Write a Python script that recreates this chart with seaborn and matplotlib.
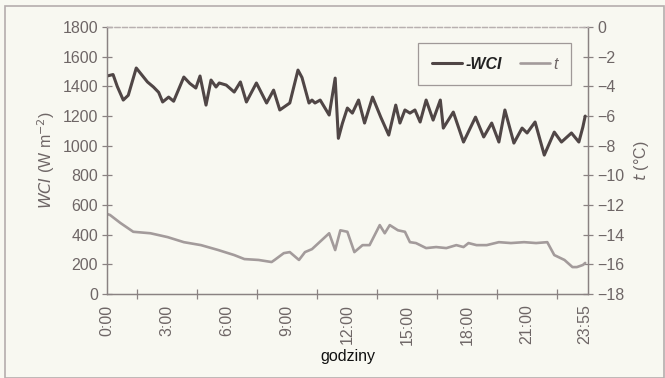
import matplotlib
matplotlib.use("Agg")
import matplotlib.pyplot as plt
from matplotlib.lines import Line2D
from matplotlib.ticker import FixedLocator
import pandas as pd
import seaborn as sns

# Wind chill index (WCI) over the day: hours, value in W m^-2
wci_hours = [0.0, 0.30, 0.51, 0.81, 1.06, 1.46, 2.02, 2.32, 2.58, 2.78, 3.08, 3.33,
             3.84, 4.14, 4.44, 4.65, 4.95, 5.20, 5.45, 5.61, 5.96, 6.36, 6.67, 6.97,
             7.47, 7.98, 8.33, 8.64, 9.14, 9.55, 9.75, 10.10, 10.25, 10.40, 10.66,
             11.11, 11.41, 11.57, 11.77, 12.02, 12.27, 12.58, 12.88, 13.28, 13.69,
             14.09, 14.44, 14.65, 14.90, 15.15, 15.40, 15.66, 15.96, 16.31, 16.67,
             16.82, 17.32, 17.83, 18.43, 18.84, 19.24, 19.60, 19.90, 20.35, 20.76,
             21.01, 21.41, 21.87, 22.37, 22.73, 23.23, 23.60, 23.80, 23.917]
wci_values = [1470, 1480, 1400, 1308, 1340, 1524, 1430, 1396, 1360, 1295, 1328, 1300,
              1463, 1420, 1389, 1470, 1274, 1443, 1396, 1423, 1409, 1362, 1430, 1295,
              1423, 1288, 1375, 1241, 1288, 1510, 1460, 1288, 1308, 1288, 1308,
              1207, 1456, 1050, 1150, 1254, 1220, 1308, 1153, 1328, 1193,
              1072, 1274, 1153, 1241, 1220, 1241, 1160, 1308, 1173, 1308,
              1119, 1227, 1025, 1193, 1059, 1153, 1025, 1241, 1018, 1119,
              1086, 1160, 937, 1092, 1025, 1086, 1025, 1126, 1200]

# Air temperature t over the day: hours, degrees C
t_hours = [0.0, 0.15, 0.66, 1.31, 2.17, 3.03, 3.84, 4.70, 5.56, 6.36, 6.87, 7.58,
           8.23, 8.38, 8.84, 9.14, 9.60, 9.90, 10.25, 11.11, 11.41, 11.67, 12.02,
           12.37, 12.78, 13.13, 13.64, 13.89, 14.14, 14.55, 14.90, 15.15, 15.45,
           15.96, 16.46, 16.97, 17.47, 17.83, 18.08, 18.48, 18.99, 19.60, 20.20,
           20.86, 21.46, 22.02, 22.37, 22.88, 23.28, 23.50, 23.80, 23.917]
t_values = [-12.6, -12.67, -13.2, -13.8, -13.9, -14.16, -14.5, -14.7, -15.03, -15.37,
            -15.64, -15.7, -15.84, -15.7, -15.24, -15.17, -15.7, -15.17, -14.97,
            -13.9, -15.03, -13.7, -13.8, -15.17, -14.7, -14.7, -13.35, -13.9, -13.35,
            -13.7, -13.8, -14.5, -14.56, -14.9, -14.83, -14.9, -14.7, -14.83, -14.56,
            -14.7, -14.7, -14.5, -14.56, -14.5, -14.56, -14.5, -15.37, -15.7, -16.18,
            -16.18, -16.04, -15.9]

x_tick_pos = [0, 3, 6, 9, 12, 15, 18, 21, 23.917]
x_tick_labels = ["0:00", "3:00", "6:00", "9:00", "12:00", "15:00", "18:00", "21:00", "23:55"]
x_minor_pos = [1.5, 4.5, 7.5, 10.5, 13.5, 16.5, 19.5, 22.5]

bg = "#f8f8f1"
axis_col = "#8a8282"
text_col = "#6e6666"
wci_col = "#504646"
t_col = "#a39b9b"
fs = 11.5

sns.set_theme(style="white")
plt.rcParams["font.family"] = ["Liberation Sans", "DejaVu Sans"]

fig = plt.figure(figsize=(6.65, 3.78), dpi=100, facecolor=bg)
ax = fig.add_axes([0.161, 0.222, 0.723, 0.7064])
ax2 = ax.twinx()

wci_df = pd.DataFrame({"h": wci_hours, "WCI": wci_values})
t_df = pd.DataFrame({"h": t_hours, "t": t_values})

sns.lineplot(data=wci_df, x="h", y="WCI", ax=ax, color=wci_col, lw=2.2, legend=False,
             solid_joinstyle="round")
sns.lineplot(data=t_df, x="h", y="t", ax=ax2, color=t_col, lw=1.9, legend=False,
             solid_joinstyle="round")

ax.set_xlim(0, 24.05)
ax.set_ylim(0, 1800)
ax2.set_ylim(-18, 0)
ax.set_yticks(range(0, 1801, 200))
ax2.set_yticks(range(-18, 1, 2))
ax.xaxis.set_major_locator(FixedLocator(x_tick_pos))
ax.xaxis.set_minor_locator(FixedLocator(x_minor_pos))
ax.set_xticklabels(x_tick_labels, rotation=90)

for a in (ax, ax2):
    for s in a.spines.values():
        s.set_color(axis_col)
        s.set_linewidth(0.9)
    a.spines["top"].set_linestyle((0, (4, 2)))
    a.spines["top"].set_color("#b8b0b0")
    a.tick_params(direction="inout", length=7, width=0.9, color=axis_col,
                  labelcolor=text_col, labelsize=fs)
ax.tick_params(axis="x", which="minor", direction="inout", length=7, width=0.9,
               color=axis_col, bottom=True)
ax.tick_params(axis="x", pad=4)
ax.tick_params(axis="y", pad=3)
ax2.tick_params(axis="y", pad=3)

ax.set_xlabel("godziny", fontsize=fs, color="#111111", labelpad=3)
ax.set_ylabel(r"$\it{WCI}$ (W m$^{-2}$)", fontsize=fs, color=text_col, labelpad=4)
ax2.set_ylabel(r"$\it{t}$ (°C)", fontsize=fs, color=text_col, labelpad=6)
ax2.set_xlabel("")
ax.grid(False)
ax2.grid(False)

handles = [Line2D([], [], color=wci_col, lw=2.2), Line2D([], [], color=t_col, lw=1.9)]
leg = ax.legend(handles, ["-WCI", "t"], loc="upper right", bbox_to_anchor=(0.982, 0.97),
                ncol=2, frameon=True, fancybox=False, handlelength=1.9, handletextpad=0.2,
                columnspacing=1.1, fontsize=fs, borderpad=0.85)
leg.get_frame().set_edgecolor(axis_col)
leg.get_frame().set_facecolor(bg)
leg.get_frame().set_linewidth(0.9)
txts = leg.get_texts()
txts[0].set_fontstyle("italic")
txts[0].set_fontweight("bold")
txts[0].set_color("#222222")
txts[1].set_fontstyle("italic")
txts[1].set_color(text_col)

# draw the WCI axes above the twin so its line and legend sit on top
ax.set_zorder(ax2.get_zorder() + 1)
ax.patch.set_visible(False)
ax2.patch.set_facecolor(bg)

# thin frame around the whole figure
fig.patches.append(plt.Rectangle((0.008, 0.0), 0.99, 0.984, transform=fig.transFigure,
                                 fill=False, edgecolor="#b5adad", lw=1.2))

fig.savefig("out.png", dpi=100, facecolor=bg)
